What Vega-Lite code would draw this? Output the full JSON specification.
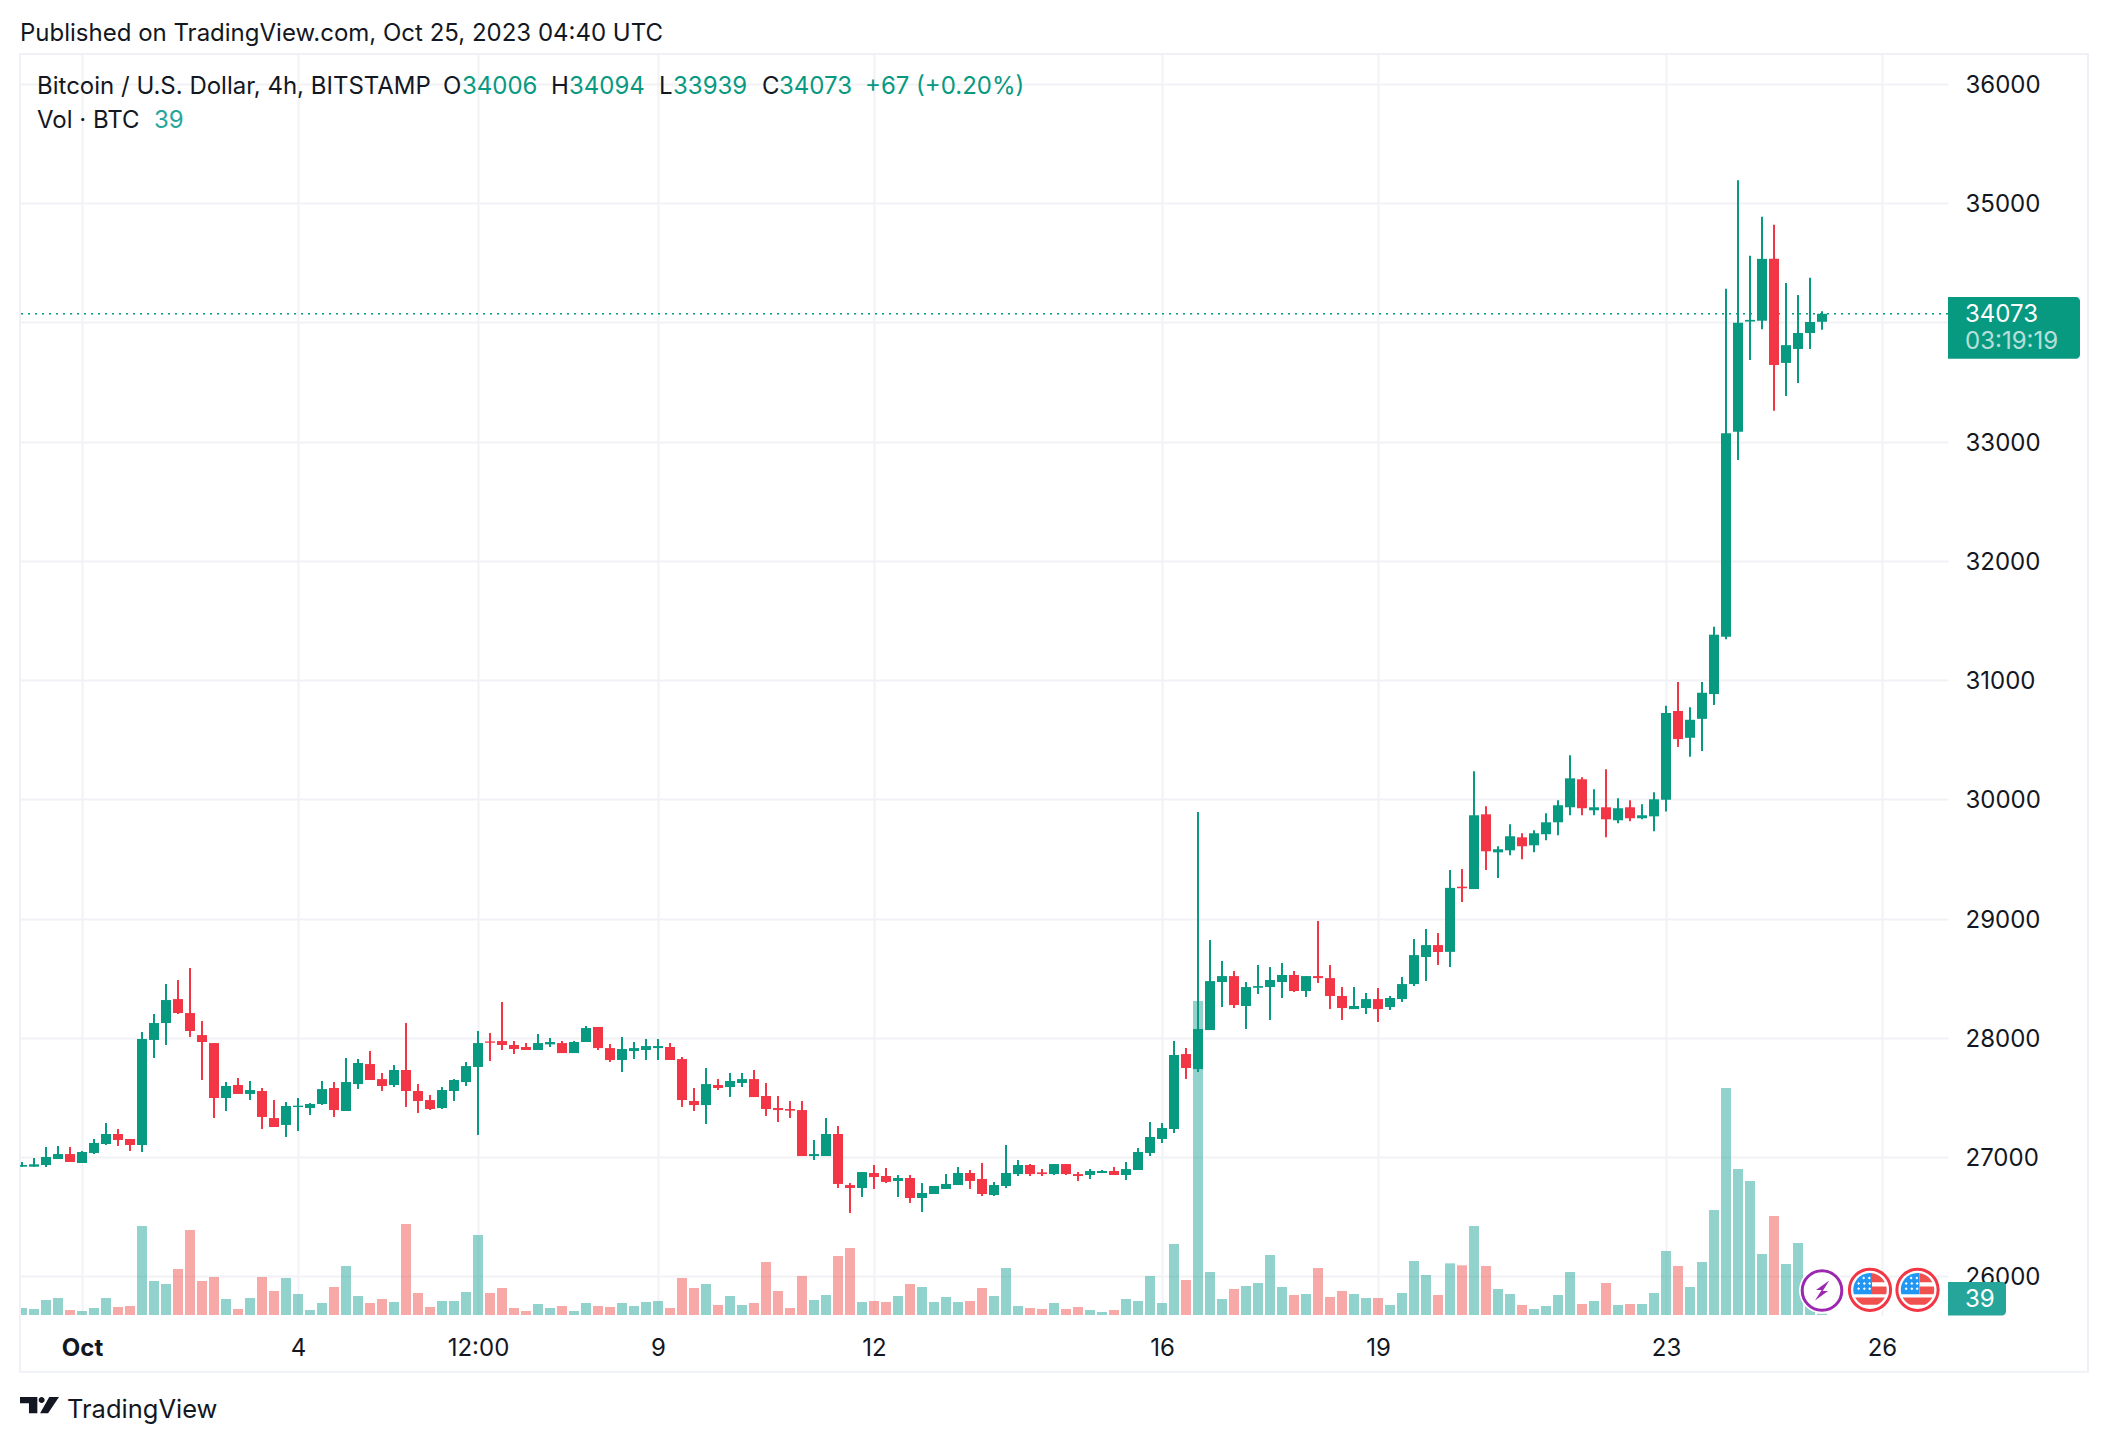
{
"$schema":"https://vega.github.io/schema/vega-lite/v6.json",
"description":"Bitcoin / U.S. Dollar, 4h candles with volume, BITSTAMP, Oct 2023",
"background":"white",
"width":1928,"height":1261,
"autosize":{"type":"none"},
"padding":{"left":20,"top":54,"right":160,"bottom":127},
"config":{"view":{"stroke":null},"font":"Inter","text":{"font":"Inter","align":"left","baseline":"middle","fontSize":24,"color":"#131722","dy":1.5}},
"datasets":{"candles":[
{"t":"2023-09-30T04:00:00Z","open":26918,"high":26957,"low":26918,"close":26932,"volume":210},
{"t":"2023-09-30T08:00:00Z","open":26918,"high":26991,"low":26918,"close":26938,"volume":180},
{"t":"2023-09-30T12:00:00Z","open":26932,"high":27083,"low":26915,"close":26999,"volume":450},
{"t":"2023-09-30T16:00:00Z","open":26982,"high":27091,"low":26982,"close":27024,"volume":510},
{"t":"2023-09-30T20:00:00Z","open":27024,"high":27083,"low":26957,"close":26957,"volume":150},
{"t":"2023-10-01T00:00:00Z","open":26949,"high":27049,"low":26949,"close":27041,"volume":120},
{"t":"2023-10-01T04:00:00Z","open":27033,"high":27150,"low":27024,"close":27117,"volume":210},
{"t":"2023-10-01T08:00:00Z","open":27108,"high":27284,"low":27100,"close":27192,"volume":510},
{"t":"2023-10-01T12:00:00Z","open":27192,"high":27234,"low":27091,"close":27142,"volume":240},
{"t":"2023-10-01T16:00:00Z","open":27150,"high":27150,"low":27049,"close":27100,"volume":270},
{"t":"2023-10-01T20:00:00Z","open":27100,"high":28048,"low":27041,"close":27989,"volume":2670},
{"t":"2023-10-02T00:00:00Z","open":27981,"high":28199,"low":27829,"close":28123,"volume":1020},
{"t":"2023-10-02T04:00:00Z","open":28123,"high":28450,"low":27939,"close":28316,"volume":930},
{"t":"2023-10-02T08:00:00Z","open":28324,"high":28484,"low":28199,"close":28207,"volume":1380},
{"t":"2023-10-02T12:00:00Z","open":28207,"high":28584,"low":28006,"close":28056,"volume":2550},
{"t":"2023-10-02T16:00:00Z","open":28022,"high":28140,"low":27645,"close":27964,"volume":1020},
{"t":"2023-10-02T20:00:00Z","open":27955,"high":27955,"low":27326,"close":27494,"volume":1140},
{"t":"2023-10-03T00:00:00Z","open":27494,"high":27628,"low":27385,"close":27595,"volume":480},
{"t":"2023-10-03T04:00:00Z","open":27603,"high":27662,"low":27528,"close":27528,"volume":180},
{"t":"2023-10-03T08:00:00Z","open":27528,"high":27637,"low":27477,"close":27561,"volume":510},
{"t":"2023-10-03T12:00:00Z","open":27553,"high":27578,"low":27234,"close":27335,"volume":1140},
{"t":"2023-10-03T16:00:00Z","open":27326,"high":27477,"low":27251,"close":27251,"volume":720},
{"t":"2023-10-03T20:00:00Z","open":27268,"high":27460,"low":27167,"close":27427,"volume":1110},
{"t":"2023-10-04T00:00:00Z","open":27418,"high":27494,"low":27217,"close":27430,"volume":630},
{"t":"2023-10-04T04:00:00Z","open":27410,"high":27452,"low":27351,"close":27444,"volume":150},
{"t":"2023-10-04T08:00:00Z","open":27444,"high":27637,"low":27435,"close":27569,"volume":360},
{"t":"2023-10-04T12:00:00Z","open":27578,"high":27628,"low":27335,"close":27393,"volume":840},
{"t":"2023-10-04T16:00:00Z","open":27385,"high":27829,"low":27385,"close":27628,"volume":1470},
{"t":"2023-10-04T20:00:00Z","open":27611,"high":27821,"low":27569,"close":27788,"volume":570},
{"t":"2023-10-05T00:00:00Z","open":27779,"high":27888,"low":27645,"close":27645,"volume":360},
{"t":"2023-10-05T04:00:00Z","open":27653,"high":27704,"low":27553,"close":27595,"volume":480},
{"t":"2023-10-05T08:00:00Z","open":27603,"high":27771,"low":27586,"close":27729,"volume":390},
{"t":"2023-10-05T12:00:00Z","open":27729,"high":28123,"low":27418,"close":27553,"volume":2730},
{"t":"2023-10-05T16:00:00Z","open":27553,"high":27611,"low":27368,"close":27469,"volume":660},
{"t":"2023-10-05T20:00:00Z","open":27477,"high":27519,"low":27393,"close":27402,"volume":240},
{"t":"2023-10-06T00:00:00Z","open":27410,"high":27586,"low":27402,"close":27561,"volume":420},
{"t":"2023-10-06T04:00:00Z","open":27553,"high":27653,"low":27469,"close":27645,"volume":420},
{"t":"2023-10-06T08:00:00Z","open":27628,"high":27796,"low":27595,"close":27762,"volume":690},
{"t":"2023-10-06T12:00:00Z","open":27754,"high":28056,"low":27184,"close":27955,"volume":2400},
{"t":"2023-10-06T16:00:00Z","open":27969,"high":28039,"low":27804,"close":27958,"volume":660},
{"t":"2023-10-06T20:00:00Z","open":27972,"high":28299,"low":27897,"close":27939,"volume":810},
{"t":"2023-10-07T00:00:00Z","open":27939,"high":27972,"low":27863,"close":27905,"volume":210},
{"t":"2023-10-07T04:00:00Z","open":27922,"high":27955,"low":27897,"close":27897,"volume":120},
{"t":"2023-10-07T08:00:00Z","open":27897,"high":28031,"low":27897,"close":27955,"volume":330},
{"t":"2023-10-07T12:00:00Z","open":27944,"high":27997,"low":27922,"close":27964,"volume":210},
{"t":"2023-10-07T16:00:00Z","open":27955,"high":27972,"low":27871,"close":27871,"volume":270},
{"t":"2023-10-07T20:00:00Z","open":27871,"high":27972,"low":27871,"close":27964,"volume":120},
{"t":"2023-10-08T00:00:00Z","open":27964,"high":28098,"low":27964,"close":28081,"volume":360},
{"t":"2023-10-08T04:00:00Z","open":28090,"high":28090,"low":27897,"close":27913,"volume":270},
{"t":"2023-10-08T08:00:00Z","open":27913,"high":27947,"low":27796,"close":27813,"volume":240},
{"t":"2023-10-08T12:00:00Z","open":27813,"high":28006,"low":27712,"close":27905,"volume":360},
{"t":"2023-10-08T16:00:00Z","open":27888,"high":27964,"low":27821,"close":27913,"volume":270},
{"t":"2023-10-08T20:00:00Z","open":27897,"high":27989,"low":27813,"close":27930,"volume":390},
{"t":"2023-10-09T00:00:00Z","open":27913,"high":27989,"low":27813,"close":27930,"volume":420},
{"t":"2023-10-09T04:00:00Z","open":27922,"high":27955,"low":27813,"close":27813,"volume":210},
{"t":"2023-10-09T08:00:00Z","open":27821,"high":27838,"low":27418,"close":27477,"volume":1110},
{"t":"2023-10-09T12:00:00Z","open":27469,"high":27578,"low":27385,"close":27435,"volume":810},
{"t":"2023-10-09T16:00:00Z","open":27435,"high":27746,"low":27276,"close":27611,"volume":930},
{"t":"2023-10-09T20:00:00Z","open":27603,"high":27653,"low":27561,"close":27578,"volume":300},
{"t":"2023-10-10T00:00:00Z","open":27586,"high":27704,"low":27502,"close":27637,"volume":570},
{"t":"2023-10-10T04:00:00Z","open":27620,"high":27704,"low":27586,"close":27653,"volume":300},
{"t":"2023-10-10T08:00:00Z","open":27653,"high":27729,"low":27502,"close":27502,"volume":360},
{"t":"2023-10-10T12:00:00Z","open":27511,"high":27620,"low":27343,"close":27402,"volume":1590},
{"t":"2023-10-10T16:00:00Z","open":27410,"high":27511,"low":27293,"close":27393,"volume":720},
{"t":"2023-10-10T20:00:00Z","open":27402,"high":27469,"low":27326,"close":27388,"volume":210},
{"t":"2023-10-11T00:00:00Z","open":27393,"high":27469,"low":27007,"close":27007,"volume":1170},
{"t":"2023-10-11T04:00:00Z","open":27007,"high":27142,"low":26974,"close":27024,"volume":450},
{"t":"2023-10-11T08:00:00Z","open":27007,"high":27326,"low":27007,"close":27192,"volume":600},
{"t":"2023-10-11T12:00:00Z","open":27192,"high":27259,"low":26739,"close":26773,"volume":1770},
{"t":"2023-10-11T16:00:00Z","open":26764,"high":26781,"low":26529,"close":26739,"volume":2010},
{"t":"2023-10-11T20:00:00Z","open":26739,"high":26873,"low":26664,"close":26873,"volume":390},
{"t":"2023-10-12T00:00:00Z","open":26865,"high":26932,"low":26731,"close":26831,"volume":420},
{"t":"2023-10-12T04:00:00Z","open":26840,"high":26907,"low":26781,"close":26790,"volume":390},
{"t":"2023-10-12T08:00:00Z","open":26798,"high":26848,"low":26664,"close":26823,"volume":570},
{"t":"2023-10-12T12:00:00Z","open":26823,"high":26848,"low":26613,"close":26655,"volume":930},
{"t":"2023-10-12T16:00:00Z","open":26655,"high":26781,"low":26538,"close":26697,"volume":840},
{"t":"2023-10-12T20:00:00Z","open":26689,"high":26756,"low":26689,"close":26756,"volume":390},
{"t":"2023-10-13T00:00:00Z","open":26731,"high":26856,"low":26731,"close":26773,"volume":540},
{"t":"2023-10-13T04:00:00Z","open":26764,"high":26915,"low":26764,"close":26865,"volume":390},
{"t":"2023-10-13T08:00:00Z","open":26865,"high":26890,"low":26731,"close":26798,"volume":420},
{"t":"2023-10-13T12:00:00Z","open":26815,"high":26949,"low":26672,"close":26689,"volume":810},
{"t":"2023-10-13T16:00:00Z","open":26680,"high":26790,"low":26672,"close":26764,"volume":570},
{"t":"2023-10-13T20:00:00Z","open":26756,"high":27100,"low":26739,"close":26865,"volume":1410},
{"t":"2023-10-14T00:00:00Z","open":26856,"high":26974,"low":26840,"close":26932,"volume":270},
{"t":"2023-10-14T04:00:00Z","open":26932,"high":26940,"low":26840,"close":26856,"volume":210},
{"t":"2023-10-14T08:00:00Z","open":26870,"high":26898,"low":26840,"close":26856,"volume":180},
{"t":"2023-10-14T12:00:00Z","open":26856,"high":26940,"low":26848,"close":26940,"volume":360},
{"t":"2023-10-14T16:00:00Z","open":26940,"high":26940,"low":26848,"close":26856,"volume":180},
{"t":"2023-10-14T20:00:00Z","open":26856,"high":26873,"low":26798,"close":26840,"volume":240},
{"t":"2023-10-15T00:00:00Z","open":26848,"high":26898,"low":26815,"close":26882,"volume":150},
{"t":"2023-10-15T04:00:00Z","open":26865,"high":26890,"low":26865,"close":26882,"volume":90},
{"t":"2023-10-15T08:00:00Z","open":26882,"high":26915,"low":26848,"close":26848,"volume":150},
{"t":"2023-10-15T12:00:00Z","open":26848,"high":26957,"low":26806,"close":26898,"volume":480},
{"t":"2023-10-15T16:00:00Z","open":26890,"high":27075,"low":26890,"close":27041,"volume":420},
{"t":"2023-10-15T20:00:00Z","open":27033,"high":27293,"low":27007,"close":27167,"volume":1170},
{"t":"2023-10-16T00:00:00Z","open":27150,"high":27284,"low":27117,"close":27242,"volume":360},
{"t":"2023-10-16T04:00:00Z","open":27234,"high":27972,"low":27200,"close":27855,"volume":2130},
{"t":"2023-10-16T08:00:00Z","open":27863,"high":27913,"low":27653,"close":27746,"volume":1050},
{"t":"2023-10-16T12:00:00Z","open":27737,"high":29893,"low":27712,"close":28073,"volume":9420},
{"t":"2023-10-16T16:00:00Z","open":28064,"high":28819,"low":28064,"close":28475,"volume":1290},
{"t":"2023-10-16T20:00:00Z","open":28467,"high":28643,"low":28257,"close":28517,"volume":480},
{"t":"2023-10-17T00:00:00Z","open":28517,"high":28559,"low":28249,"close":28274,"volume":780},
{"t":"2023-10-17T04:00:00Z","open":28266,"high":28467,"low":28073,"close":28425,"volume":870},
{"t":"2023-10-17T08:00:00Z","open":28419,"high":28610,"low":28366,"close":28433,"volume":960},
{"t":"2023-10-17T12:00:00Z","open":28425,"high":28593,"low":28148,"close":28484,"volume":1800},
{"t":"2023-10-17T16:00:00Z","open":28467,"high":28626,"low":28333,"close":28526,"volume":840},
{"t":"2023-10-17T20:00:00Z","open":28526,"high":28559,"low":28383,"close":28392,"volume":600},
{"t":"2023-10-18T00:00:00Z","open":28392,"high":28517,"low":28341,"close":28517,"volume":630},
{"t":"2023-10-18T04:00:00Z","open":28517,"high":28979,"low":28459,"close":28500,"volume":1410},
{"t":"2023-10-18T08:00:00Z","open":28500,"high":28610,"low":28240,"close":28350,"volume":540},
{"t":"2023-10-18T12:00:00Z","open":28350,"high":28425,"low":28148,"close":28249,"volume":720},
{"t":"2023-10-18T16:00:00Z","open":28240,"high":28425,"low":28240,"close":28266,"volume":630},
{"t":"2023-10-18T20:00:00Z","open":28249,"high":28375,"low":28199,"close":28324,"volume":510},
{"t":"2023-10-19T00:00:00Z","open":28324,"high":28417,"low":28131,"close":28240,"volume":510},
{"t":"2023-10-19T04:00:00Z","open":28257,"high":28350,"low":28232,"close":28333,"volume":300},
{"t":"2023-10-19T08:00:00Z","open":28324,"high":28509,"low":28299,"close":28450,"volume":660},
{"t":"2023-10-19T12:00:00Z","open":28450,"high":28828,"low":28433,"close":28693,"volume":1620},
{"t":"2023-10-19T16:00:00Z","open":28677,"high":28912,"low":28475,"close":28777,"volume":1200},
{"t":"2023-10-19T20:00:00Z","open":28777,"high":28878,"low":28610,"close":28719,"volume":600},
{"t":"2023-10-20T00:00:00Z","open":28720,"high":29406,"low":28594,"close":29257,"volume":1550},
{"t":"2023-10-20T04:00:00Z","open":29267,"high":29416,"low":29138,"close":29254,"volume":1490},
{"t":"2023-10-20T08:00:00Z","open":29247,"high":30235,"low":29247,"close":29866,"volume":2670},
{"t":"2023-10-20T12:00:00Z","open":29874,"high":29941,"low":29406,"close":29564,"volume":1470},
{"t":"2023-10-20T16:00:00Z","open":29555,"high":29606,"low":29340,"close":29581,"volume":780},
{"t":"2023-10-20T20:00:00Z","open":29572,"high":29790,"low":29530,"close":29690,"volume":630},
{"t":"2023-10-21T00:00:00Z","open":29681,"high":29715,"low":29497,"close":29606,"volume":300},
{"t":"2023-10-21T04:00:00Z","open":29614,"high":29740,"low":29555,"close":29715,"volume":180},
{"t":"2023-10-21T08:00:00Z","open":29707,"high":29883,"low":29656,"close":29807,"volume":270},
{"t":"2023-10-21T12:00:00Z","open":29807,"high":29992,"low":29698,"close":29950,"volume":600},
{"t":"2023-10-21T16:00:00Z","open":29933,"high":30369,"low":29866,"close":30176,"volume":1290},
{"t":"2023-10-21T20:00:00Z","open":30168,"high":30185,"low":29866,"close":29925,"volume":330},
{"t":"2023-10-22T00:00:00Z","open":29908,"high":30084,"low":29866,"close":29933,"volume":420},
{"t":"2023-10-22T04:00:00Z","open":29933,"high":30252,"low":29681,"close":29832,"volume":960},
{"t":"2023-10-22T08:00:00Z","open":29824,"high":30008,"low":29799,"close":29925,"volume":300},
{"t":"2023-10-22T12:00:00Z","open":29933,"high":29992,"low":29816,"close":29841,"volume":330},
{"t":"2023-10-22T16:00:00Z","open":29841,"high":29958,"low":29832,"close":29866,"volume":330},
{"t":"2023-10-22T20:00:00Z","open":29857,"high":30059,"low":29732,"close":30000,"volume":660},
{"t":"2023-10-23T00:00:00Z","open":29997,"high":30784,"low":29897,"close":30724,"volume":1920},
{"t":"2023-10-23T04:00:00Z","open":30741,"high":30985,"low":30438,"close":30505,"volume":1470},
{"t":"2023-10-23T08:00:00Z","open":30516,"high":30773,"low":30357,"close":30667,"volume":840},
{"t":"2023-10-23T12:00:00Z","open":30675,"high":30985,"low":30406,"close":30894,"volume":1590},
{"t":"2023-10-23T16:00:00Z","open":30883,"high":31447,"low":30791,"close":31381,"volume":3150},
{"t":"2023-10-23T20:00:00Z","open":31363,"high":34283,"low":31342,"close":33071,"volume":6810},
{"t":"2023-10-24T00:00:00Z","open":33083,"high":35194,"low":32846,"close":33997,"volume":4380},
{"t":"2023-10-24T04:00:00Z","open":34008,"high":34559,"low":33686,"close":34022,"volume":4020},
{"t":"2023-10-24T08:00:00Z","open":34015,"high":34887,"low":33944,"close":34534,"volume":1830},
{"t":"2023-10-24T12:00:00Z","open":34534,"high":34820,"low":33259,"close":33644,"volume":2970},
{"t":"2023-10-24T16:00:00Z","open":33661,"high":34332,"low":33383,"close":33810,"volume":1530},
{"t":"2023-10-24T20:00:00Z","open":33778,"high":34230,"low":33493,"close":33912,"volume":2160},
{"t":"2023-10-25T00:00:00Z","open":33912,"high":34375,"low":33778,"close":34004,"volume":400},
{"t":"2023-10-25T04:00:00Z","open":34006,"high":34094,"low":33939,"close":34073,"volume":39}
]},
"data":{"name":"candles"},
"resolve":{"scale":{"y":"independent"}},
"layer":[
{"mark":{"type":"bar","width":10,"opacity":0.5,"clip":true},
 "encoding":{
  "x":{"field":"t","type":"temporal","title":null,
   "scale":{"type":"utc","nice":false,"padding":0,"domain":[{"year":2023,"month":"sep","date":30,"hours":3,"minutes":20,"utc":true},{"year":2023,"month":"oct","date":26,"hours":22,"utc":true}]},
   "axis":{"values":[{"year":2023,"month":"oct","date":1,"utc":true},{"year":2023,"month":"oct","date":4,"utc":true},{"year":2023,"month":"oct","date":6,"hours":12,"utc":true},{"year":2023,"month":"oct","date":9,"utc":true},{"year":2023,"month":"oct","date":12,"utc":true},{"year":2023,"month":"oct","date":16,"utc":true},{"year":2023,"month":"oct","date":19,"utc":true},{"year":2023,"month":"oct","date":23,"utc":true},{"year":2023,"month":"oct","date":26,"utc":true}],
    "labelExpr":"utcdate(datum.value)==1 ? 'Oct' : utchours(datum.value)==12 ? '12:00' : utcdate(datum.value)+''",
    "labelFontWeight":{"condition":{"test":"utcdate(datum.value)==1","value":"bold"},"value":"normal"},
    "labelFont":"Inter","labelFontSize":24,"labelColor":"#131722","labelPadding":21,"labelOverlap":false,"labelFlush":false,"labelBound":false,
    "domain":false,"ticks":false,"tickSize":0,"grid":true,"gridColor":"#f1f2f5","gridWidth":2}},
  "y":{"field":"volume","type":"quantitative","scale":{"domain":[0,37830]},"axis":null},
  "color":{"condition":{"test":"datum.close >= datum.open","value":"#26a69a"},"value":"#ef5350"}}},
{"layer":[
 {"data":{"values":[{}]},
  "mark":{"type":"rect","fill":"transparent","stroke":"#f0f1f6","strokeWidth":2},
  "encoding":{
   "x":{"datum":{"year":2023,"month":"sep","date":30,"hours":3,"minutes":20,"utc":true},"type":"temporal"},"x2":{"datum":{"year":2023,"month":"oct","date":28,"hours":20,"minutes":40,"utc":true}},
   "y":{"datum":36252.5,"type":"quantitative",
    "scale":{"domain":[25673.7,36252.5],"nice":false,"zero":false},
    "axis":{"title":null,"orient":"right","values":[26000,27000,28000,29000,30000,31000,32000,33000,34000,35000,36000],
     "format":"d","labelExpr":"datum.value==34000 ? '' : datum.label",
     "labelFont":"Inter","labelFontSize":24,"labelColor":"#131722","labelPadding":17,"labelOffset":1.5,"labelOverlap":false,"labelBound":false,
     "domain":false,"ticks":false,"tickSize":0,"grid":true,"gridColor":"#f1f2f5","gridWidth":2}},
   "y2":{"datum":25198}}},
 {"data":{"values":[{}]},
  "mark":{"type":"rule","stroke":"#089981","strokeWidth":1.5,"strokeDash":[2,5]},
  "encoding":{"y":{"datum":34073,"type":"quantitative"}}},
 {"mark":{"type":"rule","strokeWidth":2,"clip":true},
  "encoding":{
   "x":{"field":"t","type":"temporal"},
   "y":{"field":"low","type":"quantitative","title":null},"y2":{"field":"high"},
   "color":{"condition":{"test":"datum.close >= datum.open","value":"#089981"},"value":"#f23645"}}},
 {"mark":{"type":"bar","width":10,"clip":true},
  "encoding":{
   "x":{"field":"t","type":"temporal"},
   "y":{"field":"open","type":"quantitative","title":null},"y2":{"field":"close"},
   "color":{"condition":{"test":"datum.close >= datum.open","value":"#089981"},"value":"#f23645"}}},
 {"data":{"values":[{"label":"Published on TradingView.com, Oct 25, 2023 04:40 UTC"}]},"mark":"text",
  "encoding":{"x":{"datum":{"year":2023,"month":"sep","date":30,"hours":3,"minutes":20,"utc":true},"type":"temporal"},"y":{"datum":36437,"type":"quantitative"},"text":{"field":"label"}}},
 {"data":{"values":[{"label":"Bitcoin / U.S. Dollar, 4h, BITSTAMP"}]},"mark":"text",
  "encoding":{"x":{"datum":{"year":2023,"month":"sep","date":30,"hours":9,"utc":true},"type":"temporal"},"y":{"datum":35992,"type":"quantitative"},"text":{"field":"label"}}},
 {"data":{"values":[{"label":"O"}]},"mark":"text",
  "encoding":{"x":{"datum":{"year":2023,"month":"oct","date":6,"hours":0,"minutes":20,"utc":true},"type":"temporal"},"y":{"datum":35992,"type":"quantitative"},"text":{"field":"label"}}},
 {"data":{"values":[{"label":"34006"}]},"mark":{"type":"text","color":"#089981"},
  "encoding":{"x":{"datum":{"year":2023,"month":"oct","date":6,"hours":6,"minutes":40,"utc":true},"type":"temporal"},"y":{"datum":35992,"type":"quantitative"},"text":{"field":"label"}}},
 {"data":{"values":[{"label":"H"}]},"mark":"text",
  "encoding":{"x":{"datum":{"year":2023,"month":"oct","date":7,"hours":12,"minutes":20,"utc":true},"type":"temporal"},"y":{"datum":35992,"type":"quantitative"},"text":{"field":"label"}}},
 {"data":{"values":[{"label":"34094"}]},"mark":{"type":"text","color":"#089981"},
  "encoding":{"x":{"datum":{"year":2023,"month":"oct","date":7,"hours":18,"minutes":20,"utc":true},"type":"temporal"},"y":{"datum":35992,"type":"quantitative"},"text":{"field":"label"}}},
 {"data":{"values":[{"label":"L"}]},"mark":"text",
  "encoding":{"x":{"datum":{"year":2023,"month":"oct","date":9,"hours":0,"minutes":20,"utc":true},"type":"temporal"},"y":{"datum":35992,"type":"quantitative"},"text":{"field":"label"}}},
 {"data":{"values":[{"label":"33939"}]},"mark":{"type":"text","color":"#089981"},
  "encoding":{"x":{"datum":{"year":2023,"month":"oct","date":9,"hours":5,"utc":true},"type":"temporal"},"y":{"datum":35992,"type":"quantitative"},"text":{"field":"label"}}},
 {"data":{"values":[{"label":"C"}]},"mark":"text",
  "encoding":{"x":{"datum":{"year":2023,"month":"oct","date":10,"hours":10,"minutes":40,"utc":true},"type":"temporal"},"y":{"datum":35992,"type":"quantitative"},"text":{"field":"label"}}},
 {"data":{"values":[{"label":"34073"}]},"mark":{"type":"text","color":"#089981"},
  "encoding":{"x":{"datum":{"year":2023,"month":"oct","date":10,"hours":16,"minutes":20,"utc":true},"type":"temporal"},"y":{"datum":35992,"type":"quantitative"},"text":{"field":"label"}}},
 {"data":{"values":[{"label":"+67 (+0.20%)"}]},"mark":{"type":"text","color":"#089981"},
  "encoding":{"x":{"datum":{"year":2023,"month":"oct","date":11,"hours":21,"utc":true},"type":"temporal"},"y":{"datum":35992,"type":"quantitative"},"text":{"field":"label"}}},
 {"data":{"values":[{"label":"Vol · BTC"}]},"mark":"text",
  "encoding":{"x":{"datum":{"year":2023,"month":"sep","date":30,"hours":9,"utc":true},"type":"temporal"},"y":{"datum":35699,"type":"quantitative"},"text":{"field":"label"}}},
 {"data":{"values":[{"label":"39"}]},"mark":{"type":"text","color":"#26a69a"},
  "encoding":{"x":{"datum":{"year":2023,"month":"oct","date":2,"utc":true},"type":"temporal"},"y":{"datum":35699,"type":"quantitative"},"text":{"field":"label"}}},
 {"data":{"values":[{"label":"TradingView"}]},"mark":{"type":"text","fontSize":25.5},
  "encoding":{"x":{"datum":{"year":2023,"month":"sep","date":30,"hours":19,"utc":true},"type":"temporal"},"y":{"datum":24893,"type":"quantitative"},"text":{"field":"label"}}},
 {"data":{"values":[{}]},
  "mark":{"type":"point","filled":true,"opacity":1,"fill":"#131722","size":1521,
   "shape":"M-1,-0.41L-0.11,-0.41L-0.11,0.43L-0.54,0.43L-0.54,-0.09L-1,-0.09Z M0.264,-0.26A0.154,0.154 0 1,0 -0.044,-0.26A0.154,0.154 0 1,0 0.264,-0.26Z M0.5,-0.41L1,-0.41L0.44,0.43L0.03,0.43Z"},
  "encoding":{"x":{"datum":{"year":2023,"month":"sep","date":30,"hours":9,"minutes":50,"utc":true},"type":"temporal"},"y":{"datum":24919,"type":"quantitative"}}},
 {"data":{"values":[{}]},
  "mark":{"type":"rect","fill":"#089981","cornerRadiusTopRight":4,"cornerRadiusBottomRight":4},
  "encoding":{"x":{"datum":{"year":2023,"month":"oct","date":26,"hours":22,"utc":true},"type":"temporal"},"x2":{"datum":{"year":2023,"month":"oct","date":28,"hours":18,"utc":true}},
   "y":{"datum":34214,"type":"quantitative"},"y2":{"datum":33696}}},
 {"data":{"values":[{"label":"34073"}]},"mark":{"type":"text","color":"#ffffff"},
  "encoding":{"x":{"datum":{"year":2023,"month":"oct","date":27,"hours":3,"minutes":40,"utc":true},"type":"temporal"},"y":{"datum":34075,"type":"quantitative"},"text":{"field":"label"}}},
 {"data":{"values":[{"label":"03:19:19"}]},"mark":{"type":"text","color":"#ffffff","opacity":0.7},
  "encoding":{"x":{"datum":{"year":2023,"month":"oct","date":27,"hours":3,"minutes":40,"utc":true},"type":"temporal"},"y":{"datum":33845,"type":"quantitative"},"text":{"field":"label"}}},
 {"data":{"values":[{}]},
  "mark":{"type":"rect","fill":"#26a69a","cornerRadiusBottomRight":4,"cornerRadiusTopRight":4},
  "encoding":{"x":{"datum":{"year":2023,"month":"oct","date":26,"hours":22,"utc":true},"type":"temporal"},"x2":{"datum":{"year":2023,"month":"oct","date":27,"hours":17,"minutes":20,"utc":true}},
   "y":{"datum":25951,"type":"quantitative"},"y2":{"datum":25670}}},
 {"data":{"values":[{"label":"39"}]},"mark":{"type":"text","color":"#ffffff"},
  "encoding":{"x":{"datum":{"year":2023,"month":"oct","date":27,"hours":3,"minutes":40,"utc":true},"type":"temporal"},"y":{"datum":25808,"type":"quantitative"},"text":{"field":"label"}}},
 {"data":{"values":[{"t":"2023-10-25T04:00:00Z"},{"t":"2023-10-25T20:00:00Z"},{"t":"2023-10-26T11:50:00Z"}]},
  "mark":{"type":"point","filled":true,"opacity":1,"fill":"#ffffff","size":2116},
  "encoding":{"x":{"field":"t","type":"temporal"},"y":{"datum":25879,"type":"quantitative"}}},
 {"data":{"values":[{"t":"2023-10-25T04:00:00Z"}]},
  "mark":{"type":"point","opacity":1,"fill":"#ffffff","stroke":"#9c27b0","strokeWidth":3,"size":1568},
  "encoding":{"x":{"field":"t","type":"temporal"},"y":{"datum":25879,"type":"quantitative"}}},
 {"data":{"values":[{"t":"2023-10-25T04:00:00Z"}]},
  "mark":{"type":"point","filled":true,"opacity":1,"fill":"#9c27b0","size":400,
   "shape":"M0.73,-1L-0.6,-0.05L-0.03,-0.05L-0.7,1L0.6,0.05L0.07,0.05Z"},
  "encoding":{"x":{"field":"t","type":"temporal"},"y":{"datum":25879,"type":"quantitative"}}},
 {"data":{"values":[{"t":"2023-10-25T20:00:00Z"},{"t":"2023-10-26T11:50:00Z"}]},
  "mark":{"type":"point","opacity":1,"fill":"#ffffff","stroke":"#f23645","strokeWidth":3,"size":1700},
  "encoding":{"x":{"field":"t","type":"temporal"},"y":{"datum":25885,"type":"quantitative"}}},
 {"data":{"values":[{"t":"2023-10-25T20:00:00Z"},{"t":"2023-10-26T11:50:00Z"}]},
  "mark":{"type":"point","filled":true,"opacity":1,"fill":"#f0514f","size":1116,
   "shape":"M0.12,-0.993A1,1 0 0,1 0.888,-0.46L0.12,-0.46Z M0.12,-0.2L0.98,-0.2A1,1 0 0,1 0.966,0.26L0.12,0.26Z M-0.888,0.46L0.888,0.46A1,1 0 0,1 0.436,0.9L-0.436,0.9A1,1 0 0,1 -0.888,0.46Z"},
  "encoding":{"x":{"field":"t","type":"temporal"},"y":{"datum":25885,"type":"quantitative"}}},
 {"data":{"values":[{"t":"2023-10-25T20:00:00Z"},{"t":"2023-10-26T11:50:00Z"}]},
  "mark":{"type":"point","filled":true,"opacity":1,"fill":"#2196f3","size":1116,
   "shape":"M0.12,-0.993L0.12,0.26L-0.966,0.26A1,1 0 0,1 0.12,-0.993Z"},
  "encoding":{"x":{"field":"t","type":"temporal"},"y":{"datum":25885,"type":"quantitative"}}},
 {"data":{"values":[{"t":"2023-10-25T20:00:00Z"},{"t":"2023-10-26T11:50:00Z"}]},
  "mark":{"type":"point","filled":true,"opacity":1,"fill":"#ffffff","size":1116,
   "shape":"M-0.38,-0.79l0.09,0.09l-0.09,0.09l-0.09,-0.09Z M-0.04,-0.79l0.09,0.09l-0.09,0.09l-0.09,-0.09Z M-0.68,-0.47l0.09,0.09l-0.09,0.09l-0.09,-0.09Z M-0.34,-0.47l0.09,0.09l-0.09,0.09l-0.09,-0.09Z M-0.02,-0.47l0.09,0.09l-0.09,0.09l-0.09,-0.09Z M-0.68,-0.15l0.09,0.09l-0.09,0.09l-0.09,-0.09Z M-0.34,-0.15l0.09,0.09l-0.09,0.09l-0.09,-0.09Z M-0.02,-0.15l0.09,0.09l-0.09,0.09l-0.09,-0.09Z"},
  "encoding":{"x":{"field":"t","type":"temporal"},"y":{"datum":25885,"type":"quantitative"}}}
]}
]
}
